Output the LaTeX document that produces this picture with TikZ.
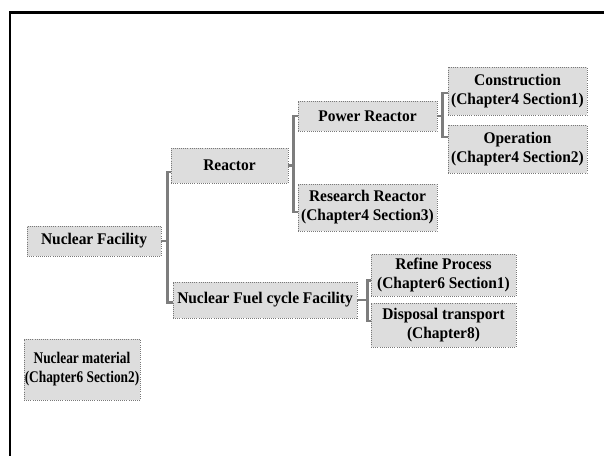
\documentclass[tikz,border=0pt]{standalone}
\usepackage{fontspec}
\setmainfont{Liberation Serif}
\newfontfamily\boxserif[FakeStretch=0.95]{Liberation Serif}
\newfontfamily\narrowserif[FakeStretch=0.82]{Liberation Serif}
\usepackage{tikz}

\definecolor{boxfill}{RGB}{221,221,221}
\definecolor{boxline}{RGB}{120,120,120}
\definecolor{linkgray}{RGB}{125,125,125}

\tikzset{
  box/.style={fill=boxfill, draw=boxline, densely dotted, line width=0.6pt,
    inner sep=0pt, align=center, font=\boxserif\bfseries\fontsize{12.2}{14.3}\selectfont},
  sz/.style 2 args={minimum width=#1*0.75pt, minimum height=#2*0.75pt},
  link/.style={draw=linkgray, line width=1.8pt},
}

\begin{document}
\begin{tikzpicture}[x=0.75pt,y=0.75pt,yscale=-1,xscale=1]
        \useasboundingbox (0,0) rectangle (604,455);

        %Frame
        \draw [line width=1.9pt] (10,460) -- (10,12.5) -- (610,12.5) ;

        % Boxes
        \node [box, sz={134}{30}] (fac) at (94,241) {Nuclear Facility};
        \node [box, sz={117}{35}] (rea) at (229.5,165.5) {Reactor};
        \node [box, sz={139}{30}] (pow) at (367.5,116) {Power Reactor};
        \node [box, sz={139}{48}] (con) at (517.5,91) {Construction\\(Chapter4 Section1)};
        \node [box, sz={139}{48}] (ope) at (517.5,149) {Operation\\(Chapter4 Section2)};
        \node [box, sz={139}{47}] (res) at (367.5,207.5) {Research Reactor\\(Chapter4 Section3)};
        \node [box, sz={184}{36}] (fuel) at (265,300) {Nuclear Fuel cycle Facility};
        \node [box, sz={145}{42}] (ref) at (443.5,275) {Refine Process\\(Chapter6 Section1)};
        \node [box, sz={145}{44}] (dis) at (443.5,325) {Disposal transport\\(Chapter8)};
        \node [box, sz={116}{61}, font=\narrowserif\bfseries\fontsize{12.2}{14.3}\selectfont] (mat) at (82,369.5) {Nuclear material\\(Chapter6 Section2)};

        % Brackets
        \draw [link] (fac.east) -- ++(6,0) coordinate (facj) ;
        \draw [link] ([yshift=5pt]rea.west) -| (facj) |- ([yshift=2pt]fuel.west) ;
        \draw [link] (rea.east) -- ++(5,0) coordinate (reaj) ;
        \draw [link] (pow.west) -| (reaj) |- ([yshift=3.5pt]res.west) ;
        \draw [link] (pow.east) -- ++(5,0) coordinate (powj) ;
        \draw [link] ([yshift=1.5pt]con.west) -| (powj) |- ([yshift=-9pt]ope.west) ;
        \draw [link] (fuel.east) -- ++(10,0) coordinate (fuelj) ;
        \draw [link] ([yshift=4pt]ref.west) -| (fuelj) |- ([yshift=-3pt]dis.west) ;

\end{tikzpicture}
\end{document}
